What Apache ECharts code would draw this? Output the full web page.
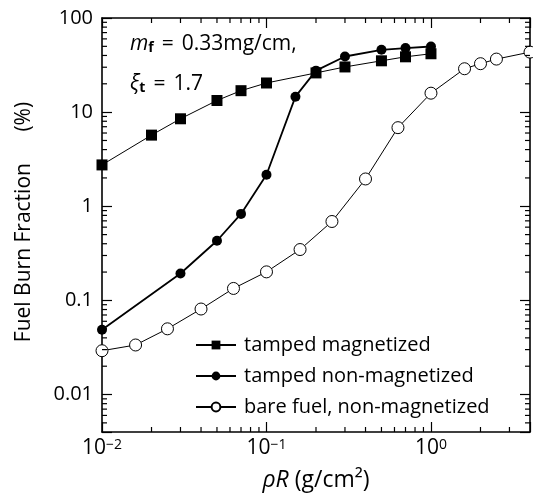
<!DOCTYPE html>
<html><head><meta charset="utf-8">
<script src="https://cdn.jsdelivr.net/npm/echarts@6/dist/echarts.min.js"></script>
<style>html,body{margin:0;padding:0;background:#fff}#c{width:533px;height:497px}</style>
</head><body><div id="c"></div>
<script>
const seriesNames = ['tamped magnetized', 'tamped non-magnetized', 'bare fuel, non-magnetized'];
const magX = [0.01, 0.02, 0.03, 0.05, 0.07, 0.1, 0.2, 0.3, 0.5, 0.7, 1];
const magY = [2.75, 5.7, 8.5, 13.3, 16.9, 20.4, 26.1, 30.2, 35.1, 38.7, 41.7];
const nonX = [0.01, 0.03, 0.05, 0.07, 0.1, 0.15, 0.2, 0.3, 0.5, 0.7, 1];
const nonY = [0.0487, 0.193, 0.43, 0.83, 2.16, 14.6, 27.6, 39, 45.9, 47.9, 49.8];
const bareX = [0.01, 0.016, 0.025, 0.04, 0.063, 0.1, 0.16, 0.25, 0.4, 0.63, 1, 1.6, 2, 2.5, 4];
const bareY = [0.0292, 0.0336, 0.0499, 0.081, 0.134, 0.201, 0.347, 0.689, 1.95, 6.84, 15.9, 28.9, 32.7, 36.6, 43.4];
const xMinorTicks = [0.02,0.03,0.04,0.05,0.06,0.07,0.08,0.09,0.2,0.3,0.4,0.5,0.6,0.7,0.8,0.9,2,3];
const yMinorTicks = [0.005,0.006,0.007,0.008,0.009,0.02,0.03,0.04,0.05,0.06,0.07,0.08,0.09,
  0.2,0.3,0.4,0.5,0.6,0.7,0.8,0.9,2,3,4,5,6,7,8,9,20,30,40,50,60,70,80,90];
const xMin = 0.01, xMax = 4, yMin = 0.004, yMax = 100;
const FONT = 'Open Sans';

function isPow10(v){ const l = Math.log10(v); return Math.abs(l - Math.round(l)) < 1e-6; }
function xFmt(v){ if(!isPow10(v)) return ''; const e = Math.round(Math.log10(v));
  return '{b|10}{s|' + (e < 0 ? '\u2212' + (-e) : e) + '}'; }
function yFmt(v){ if(!isPow10(v)) return ''; const e = Math.round(Math.log10(v));
  return e >= 0 ? String(Math.pow(10, e)) : '0.' + '0'.repeat(-e - 1) + '1'; }

const zip = (a, b) => a.map((v, i) => [v, b[i]]);
const axisLine = {show: true, lineStyle: {color: '#000', width: 1.6}};
const majorTick = {show: true, inside: true, length: 10, lineStyle: {color: '#000', width: 1.2}};
const annRich = {
  i: {fontSize: 21, fontFamily: FONT, fontStyle: 'italic', fill: '#000'},
  sub: {fontSize: 14, fontFamily: FONT, fontWeight: 'bold', fill: '#000', verticalAlign: 'bottom'},
  eq: {fontSize: 21, fontFamily: FONT, fill: '#000', padding: [0, 8, 0, 8]},
  n: {fontSize: 21, fontFamily: FONT, fill: '#000'}
};

const chart = echarts.init(document.getElementById('c'), null, {renderer: 'canvas'});
chart.setOption({
  animation: false,
  backgroundColor: '#fff',
  grid: {left: 102, right: 3, top: 18, bottom: 62.5, containLabel: false},
  xAxis: [
    {type: 'log', logBase: 10, min: xMin, max: xMax, position: 'bottom',
     axisLine, axisTick: majorTick, splitLine: {show: false},
     axisLabel: {formatter: xFmt, margin: 6, color: '#000',
       rich: {b: {fontSize: 21, fontFamily: FONT, color: '#000'},
              s: {fontSize: 14, fontFamily: FONT, color: '#000', verticalAlign: 'top'}}},
     name: '{i|\u03c1R} (g/cm\u00b2)', nameLocation: 'middle', nameGap: 37,
     nameTextStyle: {fontSize: 23, fontFamily: FONT, color: '#000',
       rich: {i: {fontSize: 23, fontFamily: FONT, fontStyle: 'italic', color: '#000'}}}},
    {type: 'log', logBase: 10, min: xMin, max: xMax, position: 'top',
     axisLine, axisTick: majorTick, axisLabel: {show: false}, splitLine: {show: false}}
  ],
  yAxis: [
    {type: 'log', logBase: 10, min: yMin, max: yMax, position: 'left',
     axisLine, axisTick: majorTick, splitLine: {show: false},
     axisLabel: {formatter: yFmt, margin: 9, fontSize: 20, fontFamily: FONT, color: '#000'},
     name: 'Fuel Burn Fraction\u2003\u2002(%)', nameLocation: 'middle', nameGap: 67, nameRotate: 90,
     nameTextStyle: {fontSize: 21, fontFamily: FONT, color: '#000', padding: [0, 0, 0, 6]}},
    {type: 'log', logBase: 10, min: yMin, max: yMax, position: 'right',
     axisLine, axisTick: majorTick, axisLabel: {show: false}, splitLine: {show: false}}
  ],
  legend: {
    data: seriesNames, orient: 'vertical', left: 190, top: 330,
    itemWidth: 40, itemHeight: 11, itemGap: 11,
    textStyle: {fontSize: 20, fontFamily: FONT, color: '#000', padding: [0, 0, 0, 3]}
  },
  graphic: [
    {type: 'text', left: 130, top: 34, style: {text: '{i|m}{sub|f}{eq|=}{n|0.33mg/cm,}', rich: annRich}},
    {type: 'text', left: 130, top: 74, style: {text: '{i|\u03be}{sub|t}{eq|=}{n|1.7}', rich: annRich}}
  ],
  series: [
    {name: seriesNames[0], type: 'line', data: zip(magX, magY), symbol: 'rect', symbolSize: 11,
     lineStyle: {color: '#000', width: 1}, itemStyle: {color: '#000'}, z: 3},
    {name: seriesNames[1], type: 'line', data: zip(nonX, nonY), symbol: 'circle', symbolSize: 10,
     lineStyle: {color: '#000', width: 1.8}, itemStyle: {color: '#000'}, z: 4},
    {name: seriesNames[2], type: 'line', data: zip(bareX, bareY), symbol: 'circle', symbolSize: 12,
     showAllSymbol: true, clip: false,
     lineStyle: {color: '#000', width: 1}, itemStyle: {color: '#fff', borderColor: '#000', borderWidth: 1}, z: 3},
    {type: 'custom', clip: false, silent: true, z: 5,
     data: xMinorTicks.map(v => [v, yMin]),
     renderItem: (p, api) => {
       const b = api.coord([api.value(0), yMin]);
       const t = api.coord([api.value(0), yMax]);
       const st = {stroke: '#000', lineWidth: 1.2};
       return {type: 'group', children: [
         {type: 'line', shape: {x1: b[0], y1: b[1], x2: b[0], y2: b[1] - 5}, style: st},
         {type: 'line', shape: {x1: t[0], y1: t[1], x2: t[0], y2: t[1] + 5}, style: st}]};
     }},
    {type: 'custom', clip: false, silent: true, z: 5,
     data: yMinorTicks.map(v => [xMin, v]),
     renderItem: (p, api) => {
       const l = api.coord([xMin, api.value(1)]);
       const r = api.coord([xMax, api.value(1)]);
       const st = {stroke: '#000', lineWidth: 1.2};
       return {type: 'group', children: [
         {type: 'line', shape: {x1: l[0], y1: l[1], x2: l[0] + 5, y2: l[1]}, style: st},
         {type: 'line', shape: {x1: r[0], y1: r[1], x2: r[0] - 5, y2: r[1]}, style: st}]};
     }}
  ]
});
</script></body></html>
